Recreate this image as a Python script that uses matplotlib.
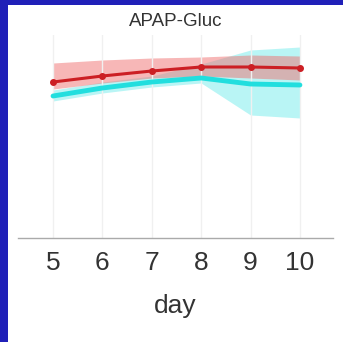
import numpy as np
import matplotlib
matplotlib.use('Agg')
import matplotlib.pyplot as plt
from matplotlib.patches import Rectangle

# values (arbitrary units, no y scale shown)
days = [5, 6, 7, 8, 9, 10]
red_mean = [7.8, 8.1, 8.35, 8.55, 8.55, 8.5]
red_hi = [8.75, 8.9, 9.0, 9.05, 9.15, 9.1]
red_lo = [7.45, 7.75, 8.0, 8.1, 8.0, 7.9]
cyan_mean = [7.1, 7.5, 7.8, 8.0, 7.7, 7.65]
cyan_hi = [7.4, 7.8, 8.1, 8.7, 9.4, 9.55]
cyan_lo = [6.85, 7.25, 7.55, 7.75, 6.15, 6.0]
title = 'APAP-Gluc'
xlabel = 'day'

plt.rcParams['font.family'] = ['Liberation Sans', 'DejaVu Sans']

fig = plt.figure(figsize=(3.43, 3.42), dpi=100, facecolor='white')
W, H = 343, 342

# blue slide border on the left and top
fig.patches.append(Rectangle((0, 0), 8 / W, 1, transform=fig.transFigure,
                             facecolor='#2020b8', edgecolor='none', zorder=0))
fig.patches.append(Rectangle((0, 1 - 5 / H), 1, 5 / H, transform=fig.transFigure,
                             facecolor='#2020b8', edgecolor='none', zorder=0))

ax = fig.add_axes([18 / W, 1 - 238 / H, (333 - 18) / W, (238 - 35) / H])
ax.set_facecolor('white')

ax.fill_between(days, cyan_lo, cyan_hi, color='#19e0e0', alpha=0.3, lw=0)
ax.fill_between(days, red_lo, red_hi, color='#f07070', alpha=0.5, lw=0)
ax.plot(days, cyan_mean, color='#22dede', lw=3.5, solid_capstyle='round')
ax.plot(days, red_mean, color='#cc1f24', lw=2.2, marker='o', ms=4)

ax.set_xlim(4.29, 10.67)
ax.set_ylim(0, 10.15)
ax.set_xticks(days)
ax.set_yticks([])
ax.grid(axis='x', color='#f0f0f0', lw=1)
ax.tick_params(axis='x', length=0, pad=9, labelsize=19, labelcolor='#333333')
for s in ('top', 'right', 'left'):
    ax.spines[s].set_visible(False)
ax.spines['bottom'].set_color('#aaaaaa')
ax.spines['bottom'].set_linewidth(1)

ax.set_xlabel(xlabel, fontsize=19, color='#333333', labelpad=14)
fig.text(176 / W, 1 - 22 / H, title, ha='center', va='center',
         fontsize=13.5, color='#333333')

fig.savefig('out.png', dpi=100, facecolor='white')
